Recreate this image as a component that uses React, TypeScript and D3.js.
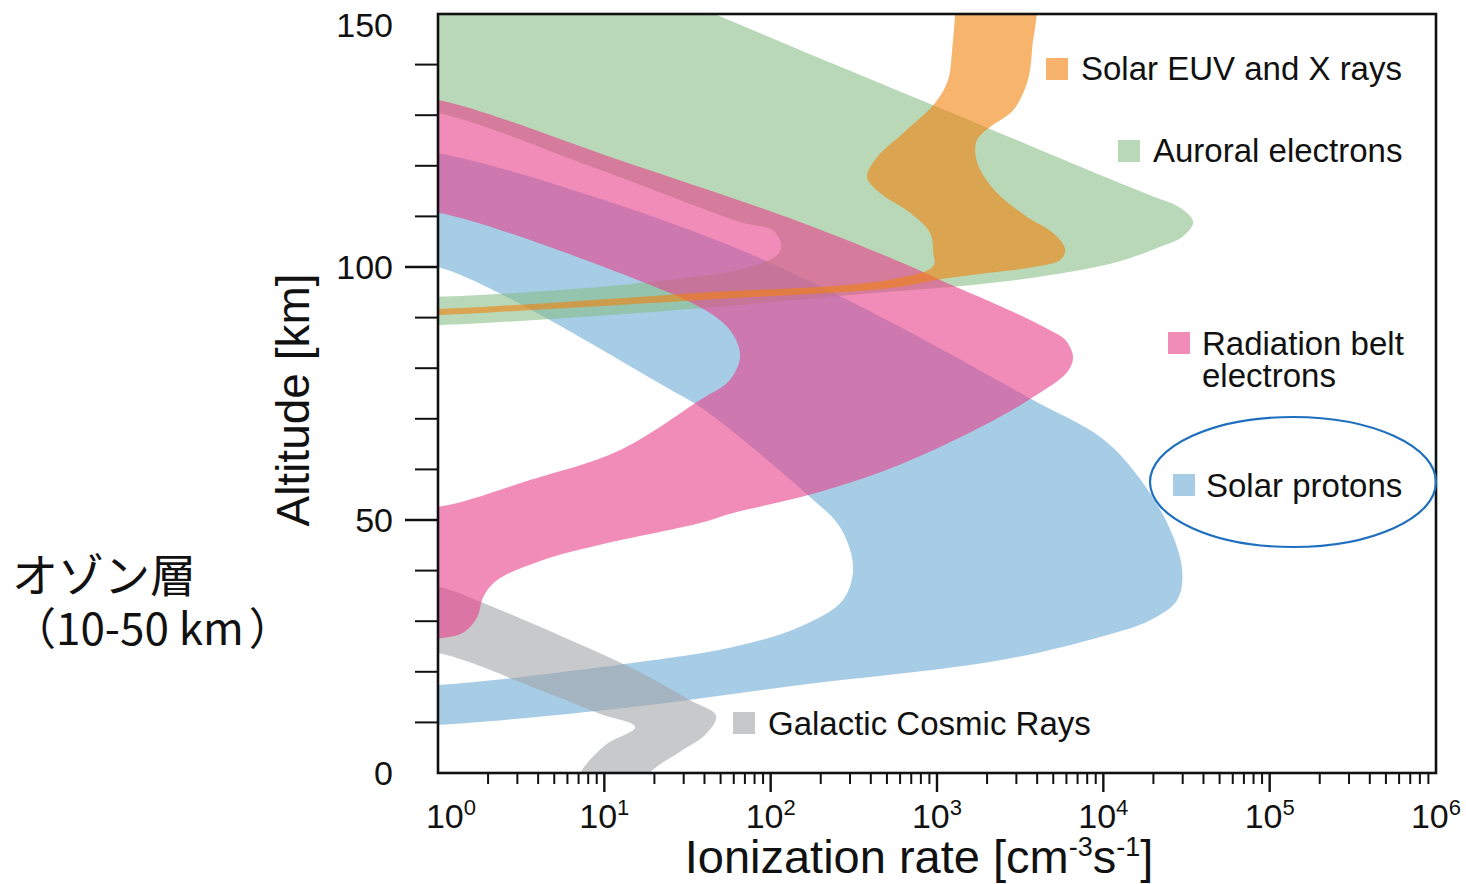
import React from 'react';
import * as d3 from 'd3';

// ---- data: [ionization rate (cm^-3 s^-1), altitude (km)] outlines ----
const SOLAR_EUV_XRAYS: [number, number][] = [
  [3730, 156], [3730, 143], [3480, 136.4], [2870, 131], [2090, 127.7], [1740, 125.1], [1700, 122.5],
  [1820, 119.2], [2300, 114.6], [3480, 109.9], [5000, 106.7], [5900, 103.4], [5500, 101.4], [3800, 100],
  [2000, 98.8], [1050, 97.6], [510, 95.8], [38, 93.5], [4.7, 91.7], [1, 90.5], [0.5, 90.3],
  [0.5, 91.6], [1, 91.7], [4.7, 92.9], [38, 94.9], [500, 97.4], [950, 100.2], [950, 102.8], [910, 106.7],
  [690, 110.7], [455, 114.6], [380, 117.8], [436, 121.7], [643, 126.8], [974, 132.4], [1166, 137],
  [1233, 142.9], [1285, 150.2], [1300, 156],
];

const AURORAL_ELECTRONS: [number, number][] = [
  [0.5, 158], [17, 156], [46, 150], [150, 142.9], [1200, 130.6], [9570, 118.2], [19100, 114.2],
  [28960, 111.7], [34700, 108.9], [30200, 106.1], [21970, 104], [12100, 101], [4790, 98.4], [1816, 96.6],
  [508, 95.1], [16, 90.9], [1, 88.5], [0.5, 88.4],
  [0.5, 94.2], [1, 94.1], [16, 96.8], [75, 100], [111, 102.6], [115.5, 104.7], [102, 107.3], [65.5, 108.9],
  [9.4, 119.2], [1, 130.4], [0.5, 130.8],
];

const RADIATION_BELT_ELECTRONS: [number, number][] = [
  [0.5, 133.5], [1, 133], [12.4, 121.1], [150, 108.9], [600, 101], [1377, 95.7], [2395, 92.3],
  [4786, 87.5], [5890, 85.6], [6577, 82.2], [6060, 79.2], [3785, 74.3], [2395, 70.4], [948, 63.8],
  [380, 58.5], [150, 54.5], [59.4, 51.4], [37.6, 49.4], [9.4, 45.1], [4.28, 42.1], [2.26, 38.1],
  [1.87, 34.8], [1.72, 30.8], [1.41, 27.7], [1.07, 26.7], [0.5, 26.5],
  [0.5, 52.8], [1, 52.6], [3.57, 57.9], [12.4, 63.8], [37.6, 73.7], [57, 77.7], [65.5, 82.6],
  [57, 87.5], [40.3, 91.5], [16, 97.4], [1, 110.7], [0.5, 111],
];

const SOLAR_PROTONS: [number, number][] = [
  [0.5, 123], [1, 122.5], [10.1, 113.2], [65.5, 103.4], [218, 95.5], [909, 85], [3785, 73.7],
  [9570, 66.4], [15110, 59.9], [24210, 49.4], [29780, 40.1], [27800, 34.2], [19110, 30.2], [9570, 26.9],
  [2395, 22.3], [150, 17.4], [14.3, 13], [1, 9.5], [0.5, 9.4],
  [0.5, 17.5], [1, 17.4], [14.3, 21.7], [59.4, 24.9], [150, 28.9], [272, 34.2], [313, 40.7],
  [261, 48.6], [173, 54.5], [40.3, 71.7], [25.2, 75.7], [1, 100], [0.5, 100.2],
];

const GALACTIC_COSMIC_RAYS: [number, number][] = [
  [0.5, 37.5], [1, 36.8], [1.87, 33.6], [5.65, 26.9], [14.3, 20.9], [32.8, 14.4], [47, 11.3],
  [40.3, 7.5], [28.5, 4.2], [18.8, 0], [17.6, -3], [6.67, -3], [7.14, 0], [10.1, 5.5], [15.3, 9.1],
  [9.4, 11.7], [4.1, 16.4], [1, 23.7], [0.5, 24],
];

const DECADES = [0, 1, 2, 3, 4, 5, 6];
const ALT_LABELS = [0, 50, 100, 150];
const ALT_MINOR = [10, 20, 30, 40, 60, 70, 80, 90, 110, 120, 130, 140];
const ALT_MAJOR = [50, 100];

const LEGEND_LABELS = [
  ['Solar EUV and X rays'],
  ['Auroral electrons'],
  ['Radiation belt', 'electrons'],
  ['Solar protons'],
  ['Galactic Cosmic Rays'],
];

// ---- styling / layout ----
const FILL_OPACITY = 0.6;
const BAND_STYLE = [
  { data: SOLAR_PROTONS, fill: '#6baad5' },
  { data: GALACTIC_COSMIC_RAYS, fill: '#a3a5a8' },
  { data: AURORAL_ELECTRONS, fill: '#89be89' },
  { data: RADIATION_BELT_ELECTRONS, fill: '#e83f8a' },
  { data: SOLAR_EUV_XRAYS, fill: '#f2820a' },
];
const LEGEND_LAYOUT = [
  { color: '#f7b26c', sx: 1046, sy: 58, tx: 1081, ty: 80 },
  { color: '#b8d8b8', sx: 1118, sy: 140, tx: 1153, ty: 162 },
  { color: '#f18cb9', sx: 1168, sy: 332, tx: 1202, ty: 355 },
  { color: '#a6cce6', sx: 1173, sy: 474, tx: 1206, ty: 497 },
  { color: '#c6c7c9', sx: 733, sy: 712, tx: 768, ty: 735 },
];

const W = 1466;
const H = 884;
const L = 438, R = 1436, T = 14, B = 773;
const FONT = "'Liberation Sans', Arial, Helvetica, sans-serif";
const JP_FONT = "'Noto Sans CJK JP', sans-serif";

export default function App() {
  const x = d3.scaleLog().domain([1, 1e6]).range([L, R]);
  const y = d3.scaleLinear().domain([0, 150]).range([B, T]);
  const line = d3
    .line<[number, number]>()
    .x((d) => x(d[0]))
    .y((d) => y(d[1]))
    .curve(d3.curveCatmullRomClosed.alpha(0.5));

  const minor: number[] = [];
  for (let k = 0; k < 6; k++) for (let m = 2; m <= 9; m++) minor.push(m * Math.pow(10, k));

  return (
    <svg
      width={W}
      height={H}
      viewBox={`0 0 ${W} ${H}`}
      style={{ position: 'absolute', left: 0, top: 0, background: '#fff' }}
    >
      <defs>
        <clipPath id="plotclip">
          <rect x={L} y={T} width={R - L} height={B - T} />
        </clipPath>
      </defs>
      <rect x={0} y={0} width={W} height={H} fill="#fff" />
      <g clipPath="url(#plotclip)">
        {BAND_STYLE.map((b, i) => (
          <path key={i} d={line(b.data) || ''} fill={b.fill} fillOpacity={FILL_OPACITY} stroke="none" />
        ))}
      </g>

      {/* frame */}
      <rect x={L} y={T} width={R - L} height={B - T} fill="none" stroke="#111" strokeWidth={2.6} />

      {/* y ticks */}
      {ALT_MINOR.map((a) => (
        <line key={'ym' + a} x1={L - 23} x2={L} y1={y(a)} y2={y(a)} stroke="#111" strokeWidth={2} />
      ))}
      {ALT_MAJOR.map((a) => (
        <line key={'yM' + a} x1={L - 33} x2={L} y1={y(a)} y2={y(a)} stroke="#111" strokeWidth={2.4} />
      ))}
      {ALT_LABELS.map((a) => (
        <text
          key={'yl' + a}
          x={393}
          y={Math.max(y(a), 25)}
          dy="0.36em"
          textAnchor="end"
          fontFamily={FONT}
          fontSize={34}
          fill="#111"
        >
          {a}
        </text>
      ))}

      {/* x ticks */}
      {minor.map((v) => (
        <line key={'xm' + v} x1={x(v)} x2={x(v)} y1={B} y2={B + 11} stroke="#111" strokeWidth={2} />
      ))}
      {DECADES.filter((k) => k > 0 && k < 6).map((k) => (
        <line key={'xM' + k} x1={x(Math.pow(10, k))} x2={x(Math.pow(10, k))} y1={B} y2={B + 19} stroke="#111" strokeWidth={2.4} />
      ))}
      {DECADES.map((k) => (
        <text
          key={'xl' + k}
          x={Math.max(x(Math.pow(10, k)), 451)}
          y={828}
          textAnchor="middle"
          fontFamily={FONT}
          fontSize={34}
          fill="#111"
        >
          10
          <tspan dy={-13} fontSize={22}>
            {k}
          </tspan>
        </text>
      ))}

      {/* axis titles */}
      <text x={919} y={873} textAnchor="middle" fontFamily={FONT} fontSize={47} fill="#111">
        Ionization rate [cm
        <tspan dy={-17} fontSize={27}>-3</tspan>
        <tspan dy={17}>s</tspan>
        <tspan dy={-17} fontSize={27}>-1</tspan>
        <tspan dy={17}>]</tspan>
      </text>
      <text
        transform="translate(309,400) rotate(-90)"
        textAnchor="middle"
        fontFamily={FONT}
        fontSize={46}
        fill="#111"
      >
        Altitude [km]
      </text>

      {/* legend */}
      {LEGEND_LABELS.map((lines, i) => {
        const lay = LEGEND_LAYOUT[i];
        return (
          <g key={'lg' + i}>
            <rect x={lay.sx} y={lay.sy} width={22} height={22} fill={lay.color} />
            {lines.map((t, j) => (
              <text
                key={j}
                x={lay.tx}
                y={lay.ty + j * 32}
                fontFamily={FONT}
                fontSize={33}
                fill="#111"
              >
                {t}
              </text>
            ))}
          </g>
        );
      })}

      {/* highlight ellipse */}
      <ellipse cx={1293} cy={482} rx={143} ry={65} fill="none" stroke="#1f6fbf" strokeWidth={2.2} />

      {/* annotation */}
      <text x={12} y={592} fontFamily={JP_FONT} fontSize={46} fill="#111">
        オゾン層
      </text>
      <text x={12} y={645} fontFamily={JP_FONT} fontSize={44} fill="#111">
        （10-50 km<tspan dx={5}>）</tspan>
      </text>
    </svg>
  );
}
